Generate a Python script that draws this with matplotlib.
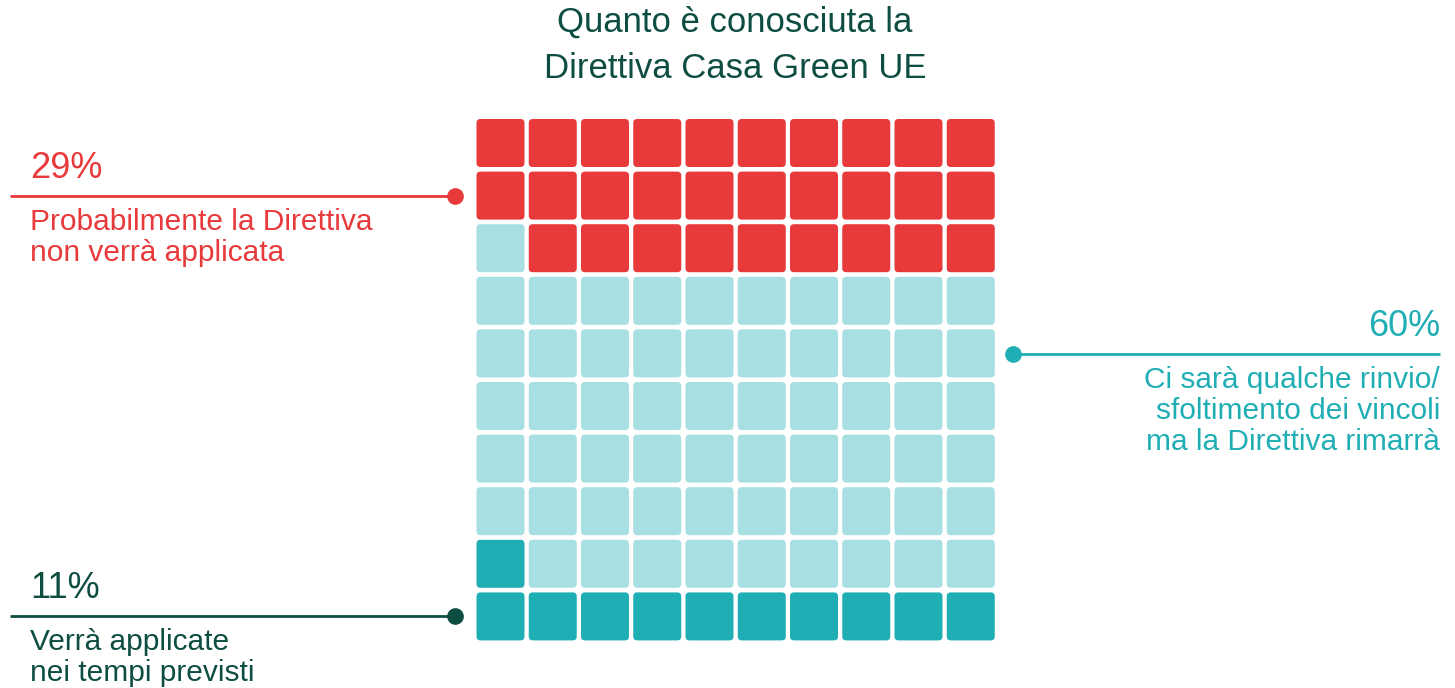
import matplotlib.pyplot as plt
from matplotlib.patches import FancyBboxPatch

# waffle data (filled from bottom-left, row by row)
labels = ["Verrà applicate\nnei tempi previsti",
          "Ci sarà qualche rinvio/\nsfoltimento dei vincoli\nma la Direttiva rimarrà",
          "Probabilmente la Direttiva\nnon verrà applicata"]
shares = [11, 60, 29]
cell_colors = ["#20AEB5", "#A8DFE2", "#E8393B"]
text_colors = ["#0D4D42", "#20AEB5", "#E8393B"]
title = "Quanto è conosciuta la\nDirettiva Casa Green UE"

plt.rcParams['font.family'] = ['Liberation Sans', 'DejaVu Sans']

fig = plt.figure(figsize=(14.55, 6.88), dpi=100)
ax = fig.add_axes([0, 0, 1, 1])
ax.set_xlim(0, 1455)
ax.set_ylim(688, 0)
ax.axis('off')

# grid geometry (pixels)
x0, y_top, px, py, size = 476.5, 119, 52.25, 52.6, 48
ncols = 10

# build cell list
cells = []
for color, n in zip(cell_colors, shares):
    cells += [color] * n

for i, color in enumerate(cells):
    row_from_bottom = i // ncols
    col = i % ncols
    row = 9 - row_from_bottom
    x = x0 + col * px
    y = y_top + row * py
    ax.add_patch(FancyBboxPatch((x + 4, y + 4), size - 8, size - 8,
                                boxstyle="round,pad=4", fc=color, ec='none'))

ax.text(735, 45, title, ha='center', va='center', fontsize=25,
        color="#0D4D42", linespacing=1.5)

# annotations: (series idx, line y, line x range, dot x, side)
ann = [
    (0, 616, (10, 455), 455, 'left'),
    (1, 354, (1013, 1440), 1013, 'right'),
    (2, 196, (10, 455), 455, 'left'),
]
for idx, ly, (xa, xb), dx, side in ann:
    c = text_colors[idx]
    ax.plot([xa, xb], [ly, ly], color=c, lw=2, solid_capstyle='butt')
    ax.plot(dx, ly, 'o', color=c, ms=11)
    tx = 30 if side == 'left' else 1440
    ax.text(tx, ly - 18, f"{shares[idx]}%", ha=side, va='baseline',
            fontsize=26, color=c)
    ax.text(tx, ly + 12, labels[idx], ha=side, va='top',
            fontsize=21.5, color=c, linespacing=1.13)

plt.savefig('out.png', dpi=100, facecolor='white')
